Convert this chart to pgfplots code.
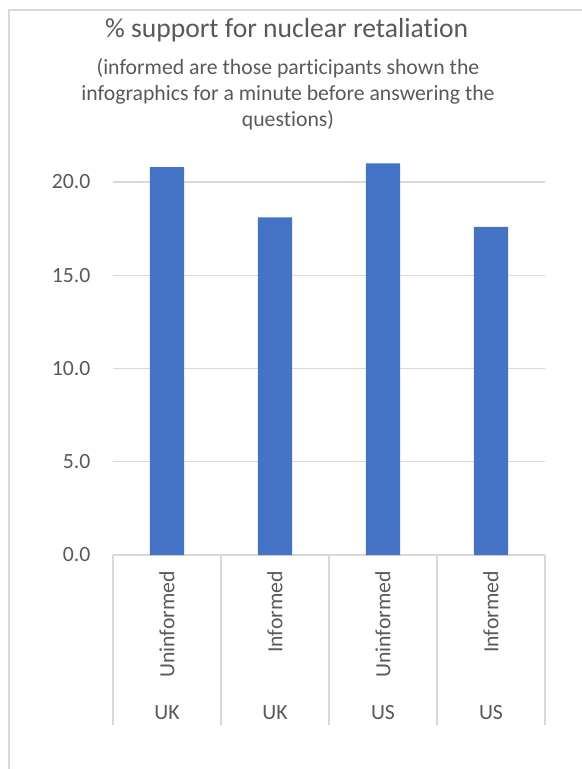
\documentclass[border=0pt]{standalone}
\usepackage{fontspec}
\setmainfont[Ligatures=NoCommon]{Carlito}
\usepackage{graphicx}
\usepackage{pgfplots}
\pgfplotsset{compat=1.18}
\definecolor{barc}{HTML}{4472C4}
\definecolor{txt}{HTML}{595959}
\definecolor{grd}{HTML}{D9D9D9}
\begin{document}
\begin{tikzpicture}
\draw[grd, line width=1.1pt] (6.75pt,-2pt) -- (6.75pt,569.25pt) -- (440pt,569.25pt);
\node[anchor=base, text=txt, font=\fontsize{20.7}{24}\selectfont, inner sep=0pt] at (215pt,548.25pt) {\% support for nuclear retaliation};
\node[anchor=base, text=txt, font=\fontsize{16.3}{19.5}\selectfont, inner sep=0pt] at (216pt,520.5pt) {(informed are those participants shown the};
\node[anchor=base, text=txt, font=\fontsize{16.3}{19.5}\selectfont, inner sep=0pt] at (216pt,501pt) {infographics for a minute before answering the};
\node[anchor=base, text=txt, font=\fontsize{16.3}{19.5}\selectfont, inner sep=0pt] at (216pt,481.5pt) {questions)};
\begin{axis}[
  at={(84.75pt,160.5pt)}, anchor=south west,
  scale only axis, width=324pt, height=307.7pt,
  xmin=-0.5, xmax=3.5, ymin=0, ymax=22,
  ybar, bar width=0.315,
  axis line style={draw=none},
  ymajorgrids, grid style={grd, line width=1pt},
  ytick={0,5,10,15,20},
  major tick length=0pt,
  xtick={0,1,2,3},
  xticklabels={\rotatebox{90}{Uninformed},\rotatebox{90}{Informed},\rotatebox{90}{Uninformed},\rotatebox{90}{Informed}},
  extra x ticks={0,1,2,3},
  extra x tick labels={UK,UK,US,US},
  extra x tick style={grid=none, xticklabel style={yshift=-100.5pt}},
  ticklabel style={font=\fontsize{16.3}{19.5}\selectfont, text=txt, inner sep=0pt},
  xticklabel style={anchor=north, yshift=-12pt},
  yticklabel style={anchor=east, xshift=-16.7pt},
  /pgf/number format/fixed,
  /pgf/number format/fixed zerofill,
  /pgf/number format/precision=1,
  /pgf/number format/assume math mode=true,
  clip=false,
]
\addplot[fill=barc, draw=none] coordinates {(0,20.8) (1,18.1) (2,21.0) (3,17.6)};
\pgfplotsinvokeforeach{-0.5,0.5,1.5,2.5,3.5}{
  \draw[grd, line width=1pt] (axis cs:#1,0) -- ++(0pt,-127.5pt);
}
\end{axis}
\pgfresetboundingbox
\useasboundingbox (0,0) rectangle (436.5pt,576.75pt);
\end{tikzpicture}
\end{document}
